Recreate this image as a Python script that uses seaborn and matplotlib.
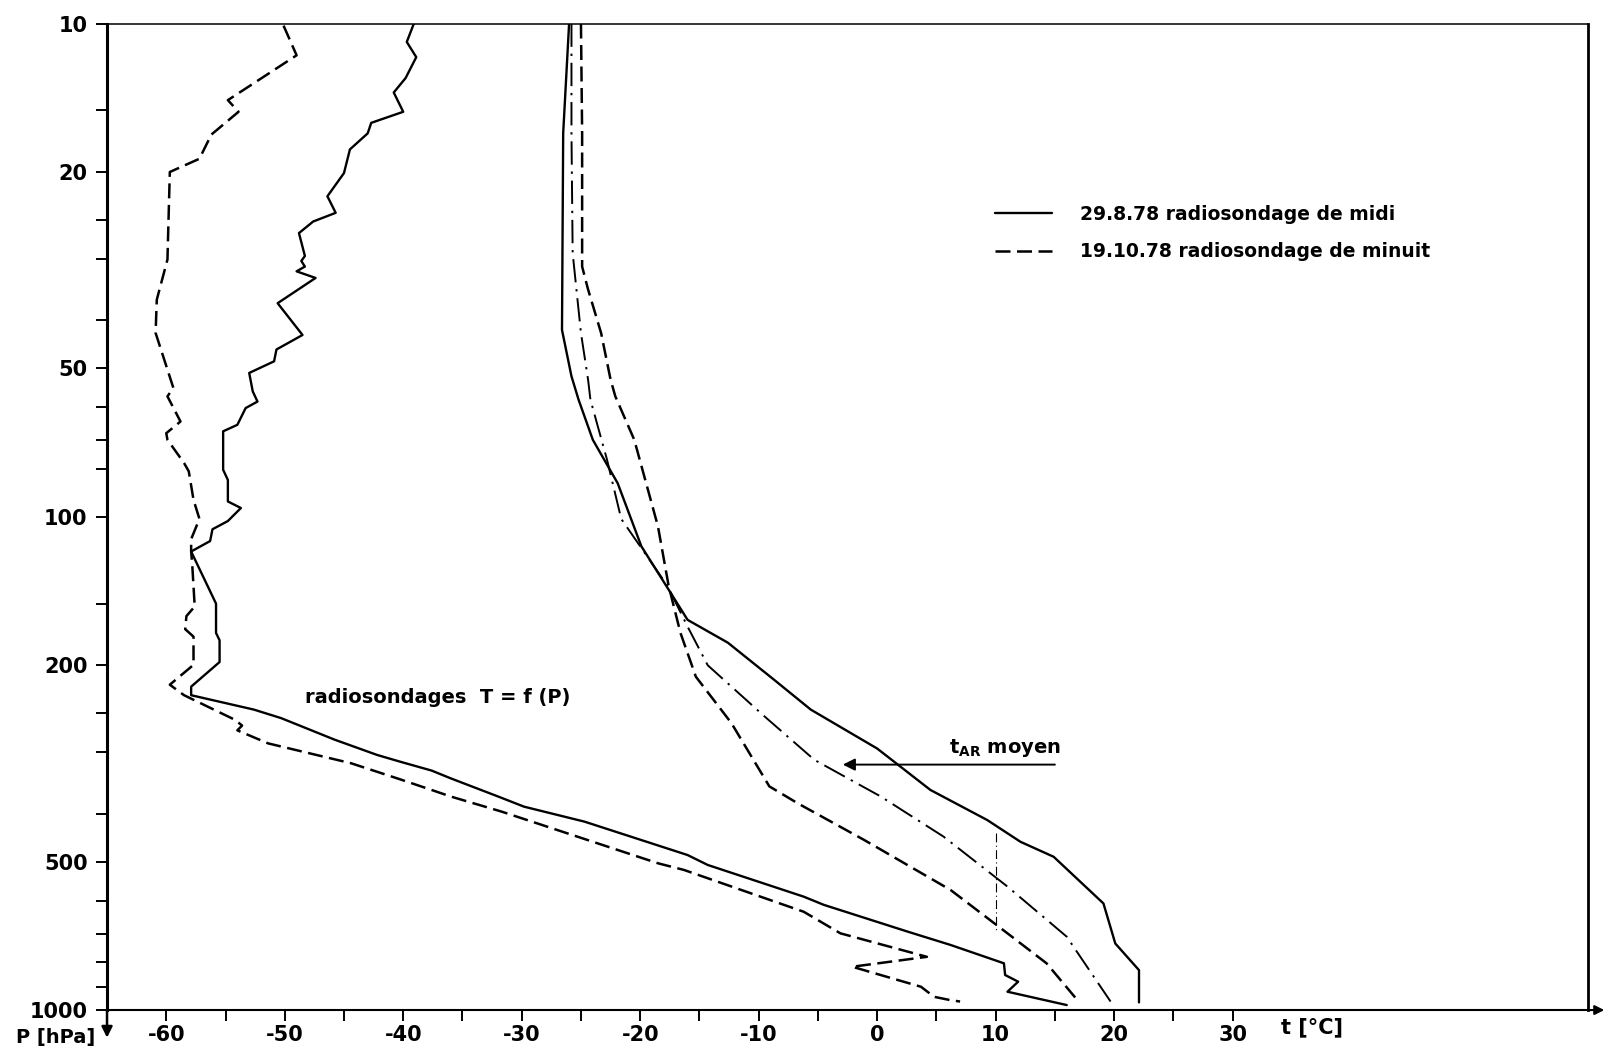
import matplotlib
matplotlib.use("Agg")
import matplotlib.pyplot as plt
from matplotlib import font_manager
import seaborn as sns

# radiosondage 29.8.78 (midi), T = f(P), from 10 hPa down to the ground
p_midi = [10.0, 10.9, 11.7, 12.9, 13.8, 15.1, 15.9, 16.7, 18.0, 20.1, 22.4, 24.2,
          25.2, 26.6, 29.6, 30.3, 31.1, 31.8, 32.8, 36.9, 42.8, 45.8, 48.4, 51.1,
          55.7, 58.4, 60.2, 65.1, 67.1, 80.3, 84.2, 93.1, 96.0, 102, 106, 112,
          117.6, 150, 172, 178, 197, 221, 230, 246, 256, 283, 304, 314, 327, 339,
          369, 387, 415, 485, 508, 589, 612, 695, 738, 804, 849, 876, 918, 977]
t_midi = [-39.1, -39.7, -38.9, -39.8, -40.8, -40.0, -42.7, -43.0, -44.5, -45.0, -46.4, -45.7,
          -47.6, -48.8, -48.3, -48.6, -48.3, -49.0, -47.4, -50.6, -48.5, -50.7, -50.9, -53.0,
          -52.7, -52.3, -53.3, -54.0, -55.2, -55.2, -54.8, -54.8, -53.7, -54.8, -56.1, -56.3,
          -57.9, -55.8, -55.8, -55.5, -55.5, -57.9, -57.9, -52.6, -50.3, -45.8, -42.2, -40.2, -37.6, -36.0,
          -32.0, -29.8, -24.7, -16.0, -14.3, -6.2, -4.5, 2.7, 6.2, 10.7, 10.8, 11.9, 11.0, 16.0]

# radiosondage 19.10.78 (minuit)
p_minuit = [10.1, 11.6, 14.3, 15.1, 16.8, 18.8, 20.0, 30.1, 36.3, 42.4, 54.8, 57.0,
            64.1, 67.7, 69.8, 77.8, 80.9, 92.4, 101, 111, 117.6, 126, 152, 159,
            169, 175, 199.6, 219, 230, 258, 265, 271, 288, 316, 341, 358, 369,
            396, 504, 520, 632, 699, 780, 817, 897, 940, 955, 961]
t_minuit = [-50.1, -49.0, -54.8, -53.9, -56.2, -57.2, -59.7, -59.9, -60.8, -60.9, -59.4, -59.9,
            -58.8, -60.0, -59.9, -58.5, -58.1, -57.7, -57.2, -57.9, -57.9, -57.8, -57.6, -58.3,
            -58.4, -57.7, -57.7, -59.7, -58.5, -54.2, -53.6, -54.0, -51.4, -44.4, -40.2, -37.6, -36.0,
            -31.7, -18.5, -16.3, -6.2, -3.1, 4.2, -2.1, 3.7, 4.8, 6.2, 7.0]

# t_AR, 29.8.78 midi
p_ar_midi = [10, 16.7, 41.8, 51.9, 57.9, 69.8, 85.5, 114.8, 140.5, 161.8, 180, 214,
             246, 295, 358, 412, 456, 489, 608, 733, 830, 965]
t_ar_midi = [-26.0, -26.5, -26.6, -25.8, -25.2, -24.0, -21.9, -19.9, -17.6, -16.0, -12.6, -8.7,
             -5.6, 0.0, 4.5, 9.3, 12.1, 14.9, 19.1, 20.1, 22.1, 22.1]

# t_AR, 19.10.78 minuit
p_ar_minuit = [10, 16.7, 31.1, 34.6, 42.4, 52.7, 57, 69.8, 104.6, 138, 172, 211,
               262, 352, 381, 452, 571, 699, 804, 961]
t_ar_minuit = [-25.0, -24.9, -24.9, -24.4, -23.3, -22.5, -22.1, -20.5, -18.5, -17.6, -16.6, -15.3,
               -12.3, -9.1, -6.7, -1.1, 6.2, 11.0, 14.3, 17.0]

# t_AR moyen
p_ar_moyen = [10, 16.7, 29.2, 42.4, 52.7, 57.9, 76.6, 101, 138, 167, 200, 254,
              311, 369, 445, 562, 710, 961]
t_ar_moyen = [-25.8, -25.8, -25.7, -25.0, -24.4, -24.2, -22.8, -21.6, -17.7, -16.0, -14.3, -9.5,
              -5.3, 0.3, 5.6, 11.0, 16.0, 19.7]

# thin reference mark at 10 degC
p_repere = [437, 688]
t_repere = [10, 10]

x_ticks = [-60, -50, -40, -30, -20, -10, 0, 10, 20, 30]
x_tick_labels = ["-60", "-50", "-40", "-30", "-20", "-10", "0", "10", "20", "30"]
x_minor = [-55, -45, -35, -25, -15, -5, 5, 15, 25]
y_ticks = [10, 20, 50, 100, 200, 500, 1000]
y_tick_labels = ["10", "20", "50", "100", "200", "500", "1000"]
y_minor = [15, 25, 30, 40, 60, 70, 80, 150, 250, 300, 400, 600, 700, 800, 900]

sns.set_style("ticks")
plt.rcParams["font.family"] = ["DejaVu Sans"]
plt.rcParams["axes.unicode_minus"] = False
for key in ["text.color", "axes.labelcolor", "xtick.color", "ytick.color", "axes.edgecolor"]:
    plt.rcParams[key] = "black"

names = {f.name for f in font_manager.fontManager.ttflist}
if "Liberation Sans Narrow" in names:
    tick_font = dict(family="Liberation Sans Narrow", size=17, weight="bold")
    unit_font = dict(family="Liberation Sans Narrow", size=16, weight="bold")
else:
    tick_font = dict(family="DejaVu Sans", size=15, weight="bold")
    unit_font = dict(family="DejaVu Sans", size=14, weight="bold")
text_font = dict(family="DejaVu Sans", size=14, weight="bold")

fig = plt.figure(figsize=(16.07, 10.54), dpi=100)
ax = fig.add_axes([0.0666, 0.0417, 0.9216, 0.936])

solid = dict(color="black", linewidth=1.7)
dashed = dict(color="black", linewidth=1.8, linestyle=(0, (6, 2.6)))

sns.lineplot(x=t_midi, y=p_midi, sort=False, estimator=None, ax=ax,
             label="29.8.78 radiosondage de midi", **solid)
sns.lineplot(x=t_minuit, y=p_minuit, sort=False, estimator=None, ax=ax,
             label="19.10.78 radiosondage de minuit", **dashed)
sns.lineplot(x=t_ar_midi, y=p_ar_midi, sort=False, estimator=None, ax=ax,
             label="_nolegend_", **solid)
sns.lineplot(x=t_ar_minuit, y=p_ar_minuit, sort=False, estimator=None, ax=ax,
             label="_nolegend_", **dashed)
sns.lineplot(x=t_ar_moyen, y=p_ar_moyen, sort=False, estimator=None, ax=ax,
             label="_nolegend_", color="black", linewidth=1.4,
             linestyle=(0, (12, 3.5, 1.2, 3.5)))
sns.lineplot(x=t_repere, y=p_repere, sort=False, estimator=None, ax=ax,
             label="_nolegend_", color="black", linewidth=0.8,
             linestyle=(0, (8, 3, 1, 3)))

ax.set_yscale("log")
ax.set_xlim(-65, 60)
ax.set_ylim(1000, 10)

ax.set_xticks(x_ticks)
ax.set_xticklabels(x_tick_labels, fontdict=tick_font)
ax.set_xticks(x_minor, minor=True)
ax.set_yticks(y_ticks)
ax.set_yticklabels(y_tick_labels, fontdict=tick_font)
ax.set_yticks(y_minor, minor=True)
ax.set_yticklabels([], minor=True)

ax.tick_params(axis="both", which="both", direction="out", length=8, width=1.4,
               color="black", labelcolor="black", top=False, right=False)
ax.tick_params(axis="x", which="major", pad=3)
ax.tick_params(axis="y", which="major", pad=6)
ax.set_xlabel("")
ax.set_ylabel("")
ax.grid(False)

for side, w in [("left", 2.2), ("bottom", 1.5), ("right", 2.0), ("top", 1.1)]:
    ax.spines[side].set_visible(True)
    ax.spines[side].set_color("black")
    ax.spines[side].set_linewidth(w)

# axis arrows
ax.annotate("", xy=(0, -0.028), xytext=(0, 0), xycoords="axes fraction",
            arrowprops=dict(arrowstyle="-|>", color="black", lw=1.8,
                            mutation_scale=16, shrinkA=0, shrinkB=0))
ax.annotate("", xy=(1.011, 0), xytext=(1.0, 0), xycoords="axes fraction",
            arrowprops=dict(arrowstyle="-|>", color="black", lw=1.5,
                            mutation_scale=14, shrinkA=0, shrinkB=0),
            annotation_clip=False)

ax.text(-0.008, -0.028, "P [hPa]", transform=ax.transAxes, ha="right", va="center",
        color="black", **unit_font)
ax.text(0.7927, -0.018, "t [°C]", transform=ax.transAxes, ha="left", va="center",
        color="black", **tick_font)

ax.text(-48.3, 232, "radiosondages  T = f (P)", ha="left", va="center",
        color="black", **text_font)

ax.annotate("", xy=(-2.9, 318), xytext=(15.0, 318),
            arrowprops=dict(arrowstyle="-|>", color="black", lw=1.4,
                            mutation_scale=18, shrinkA=0, shrinkB=0))
ax.text(6.1, 294, r"t$_{\mathbf{AR}}$ moyen", ha="left", va="center",
        color="black", **text_font)

leg = ax.legend(loc="upper left", bbox_to_anchor=(0.5935, 0.826), frameon=False,
                borderpad=0, handlelength=3.0, handletextpad=1.5, labelspacing=1.0,
                prop=dict(family="DejaVu Sans", size=13.5, weight="bold"))
for txt in leg.get_texts():
    txt.set_color("black")

fig.savefig("out.png", dpi=100)
